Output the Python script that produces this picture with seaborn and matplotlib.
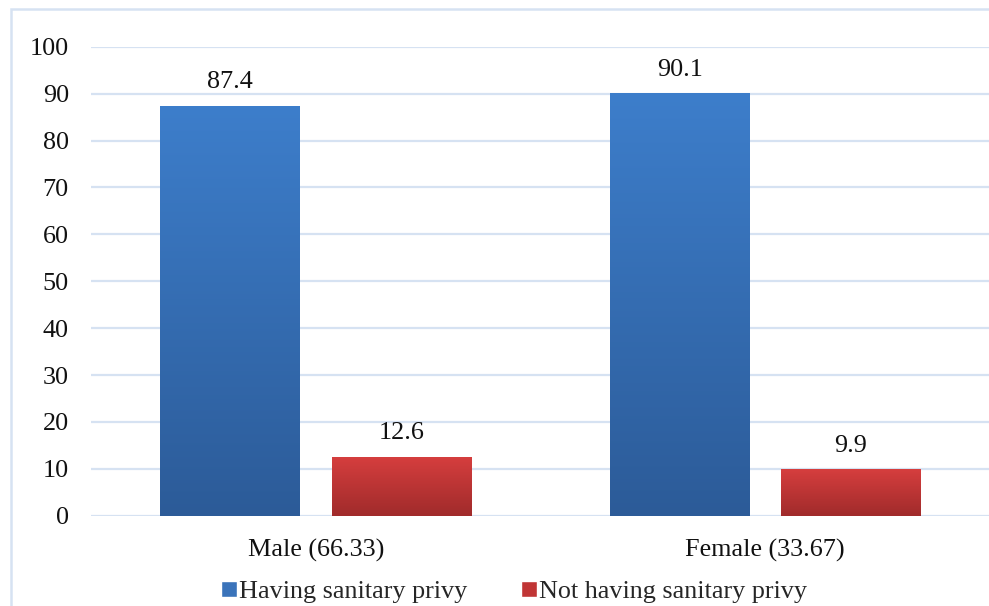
import numpy as np
import pandas as pd
import matplotlib
matplotlib.use("Agg")
import matplotlib.pyplot as plt
import seaborn as sns
from matplotlib.colors import LinearSegmentedColormap
from matplotlib.patches import Rectangle

groups = ["Male (66.33)", "Female (33.67)"]
series = ["Having sanitary privy", "Not having sanitary privy"]
having = [87.4, 90.1]
not_having = [12.6, 9.9]
y_ticks = [0, 10, 20, 30, 40, 50, 60, 70, 80, 90, 100]

df = pd.DataFrame({
    "group": groups + groups,
    "status": [series[0]] * len(groups) + [series[1]] * len(groups),
    "pct": having + not_having,
})

blue_top, blue_bot = "#3D7ECB", "#2C5B98"
red_top, red_bot = "#D63E3E", "#A02B2B"
grid_col = "#D6E2F2"
fs = 18.8

sns.set_theme(style="white")
plt.rcParams["font.family"] = ["Liberation Serif", "DejaVu Serif"]

W, H = 989, 606
fig = plt.figure(figsize=(W / 100, H / 100), dpi=100)
x0, y0, x1, y1 = 91, 515.7, 990, 46.7
ax = fig.add_axes([x0 / W, 1 - y0 / H, (x1 - x0) / W, (y0 - y1) / H])

sns.barplot(data=df, x="group", y="pct", hue="status", hue_order=series,
            palette=[blue_top, red_top], width=0.762, gap=0.184, ax=ax,
            legend=False, saturation=1)

ax.set_ylim(0, 100)
ax.set_xlim(-0.5, 1.5)
ax.set_yticks(y_ticks)
ax.yaxis.grid(True, color=grid_col, linewidth=1.6)
ax.set_axisbelow(True)
for s in ax.spines.values():
    s.set_visible(False)
ax.axhline(0, color=grid_col, linewidth=2.0, zorder=0.5)
ax.set_xlabel("")
ax.set_ylabel("")
ax.tick_params(axis="y", length=0, pad=16.0, labelsize=fs, labelcolor="#111111")
ax.tick_params(axis="x", length=0, pad=16.5, labelsize=fs, labelcolor="#111111")

# vertical gradient fill on each bar
grad = np.linspace(0, 1, 256).reshape(-1, 1)
cmaps = [LinearSegmentedColormap.from_list("b", [blue_bot, blue_top]),
         LinearSegmentedColormap.from_list("r", [red_bot, red_top])]
for cont, cmap in zip(ax.containers, cmaps):
    for bar in cont:
        bx, by = bar.get_x(), bar.get_y()
        bw, bh = bar.get_width(), bar.get_height()
        bar.set_facecolor("none")
        bar.set_edgecolor("none")
        im = ax.imshow(grad, cmap=cmap, origin="lower", aspect="auto",
                       extent=(bx, bx + bw, by, by + bh), zorder=2,
                       interpolation="bicubic")
        im.set_clip_path(bar)
    ax.bar_label(cont, fmt="%.1f", padding=9, fontsize=fs, color="#111111")

ax.set_xlim(-0.5, 1.5)
ax.set_ylim(0, 100)

# legend
handles = [Rectangle((0, 0), 1, 1, facecolor="#3A73BA"),
           Rectangle((0, 0), 1, 1, facecolor="#C03535")]
fig.legend(handles, series, loc="center", bbox_to_anchor=(514 / W, 1 - 592 / H),
           ncol=2, frameon=False, fontsize=fs, handlelength=0.6,
           handleheight=0.6, handletextpad=0.1, columnspacing=2.05,
           borderaxespad=0, borderpad=0)

# chart frame
frame = Rectangle((11 / W, -0.05), 1.1, 1 - 9 / H + 0.05, transform=fig.transFigure,
                  fill=False, edgecolor=grid_col, linewidth=1.8, zorder=-1)
fig.add_artist(frame)

fig.savefig("out.png", dpi=100)
